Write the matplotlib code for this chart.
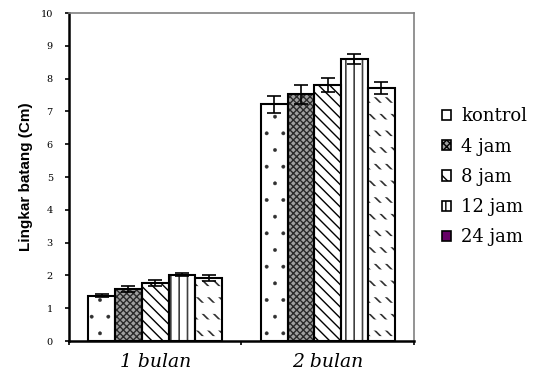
import numpy as np
import matplotlib
matplotlib.use("Agg")
import matplotlib.pyplot as plt
from matplotlib.patches import Patch

groups = ["1 bulan", "2 bulan"]
treatments = ["kontrol", "4 jam", "8 jam", "12 jam", "24 jam"]
# rows = treatment, columns = umur (1 bulan, 2 bulan)
means = [
    [1.38, 7.22],
    [1.58, 7.52],
    [1.77, 7.80],
    [2.02, 8.59],
    [1.92, 7.71],
]
errors = [
    [0.05, 0.26],
    [0.09, 0.30],
    [0.09, 0.21],
    [0.04, 0.15],
    [0.09, 0.18],
]
yticks = list(range(0, 11))

# bar fill styles per treatment: (facecolor, hatch, hatch colour, hatch width)
styles = [
    ("white", ".", "#303030", 0.3),
    ("#a0a0a0", "xxxxx", "#2a2a2a", 1.0),
    ("white", "\\\\\\", "black", 1.0),
    ("white", "||", "#404040", 1.2),
    ("white", "\\\\\\", "#303030", 1.2),
]
legend_face = ["white", "#a0a0a0", "white", "white", "#660066"]
legend_hatch = [None, "xxxxx", "\\\\", "||", None]

fig = plt.figure(figsize=(5.36, 3.74), dpi=100)
ax = fig.add_axes([0.1287, 0.0882, 0.6437, 0.877])

x = np.arange(len(groups))
width = 0.155
for i, name in enumerate(treatments):
    pos = x + (i - 2) * width
    face, hatch, hcol, hlw = styles[i]
    with plt.rc_context({"hatch.linewidth": hlw}):
        ax.bar(pos, means[i], width, color=face, hatch=hatch, edgecolor=hcol,
               linewidth=0, zorder=2)
    if i == 4:
        # break the diagonals into short dashes
        with plt.rc_context({"hatch.linewidth": 8}):
            ax.bar(pos, means[i], width, color="none", hatch="-",
                   edgecolor="white", linewidth=0, zorder=2.5)
    ax.bar(pos, means[i], width, fill=False, edgecolor="black",
           linewidth=1.5, zorder=3)
    ax.errorbar(pos, means[i], yerr=errors[i], fmt="none", ecolor="black",
                elinewidth=1.2, capsize=4.7, capthick=1.2, zorder=4)

ax.set_xlim(-0.5, 1.5)
ax.set_ylim(0, 10)
ax.set_yticks(yticks)
ax.set_yticklabels([str(v) for v in yticks], family="DejaVu Serif", fontsize=7)
ax.tick_params(axis="y", direction="out", length=3, width=1.2, pad=8.6)

ax.set_xticks(x)
ax.set_xticklabels(groups, family="DejaVu Serif", style="italic", fontsize=13.5)
ax.tick_params(axis="x", which="major", length=0, pad=8.6)
ax.set_xticks([-0.5, 0.5, 1.5], minor=True)
ax.tick_params(axis="x", which="minor", direction="out", length=3, width=1.2)

for side in ("left", "bottom"):
    ax.spines[side].set_linewidth(1.8)
    ax.spines[side].set_color("black")
for side in ("top", "right"):
    ax.spines[side].set_linewidth(1.2)
    ax.spines[side].set_color("#808080")

ax.set_ylabel("Lingkar batang (Cm)", family="Liberation Sans",
              fontweight="bold", fontsize=11)
ax.yaxis.set_label_coords(-0.104, 0.5015)

handles = [Patch(facecolor=legend_face[i], edgecolor="black",
                 hatch=legend_hatch[i], linewidth=1.2)
           for i in range(len(treatments))]
leg = fig.legend(handles, treatments, loc="center left",
                 bbox_to_anchor=(433 / 536, 0.527), frameon=False,
                 prop={"family": "DejaVu Serif", "size": 13},
                 handlelength=0.5, handleheight=0.5, handletextpad=0.55,
                 labelspacing=0.68, borderpad=0)

fig.savefig("out.png", dpi=100)
